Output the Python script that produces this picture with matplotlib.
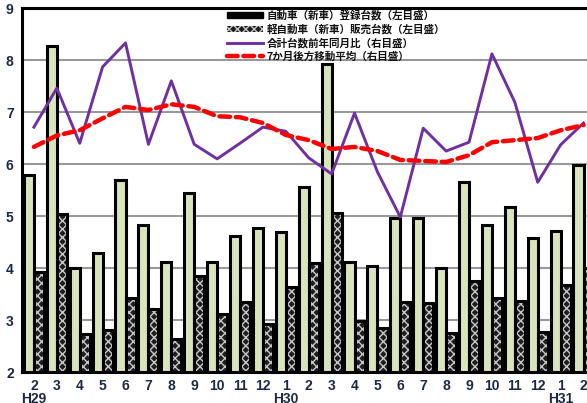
import numpy as np
import matplotlib
matplotlib.use('Agg')
from matplotlib import pyplot as plt
from matplotlib.patches import Patch, Rectangle
from matplotlib.lines import Line2D

months = ['2', '3', '4', '5', '6', '7', '8', '9', '10', '11', '12',
          '1', '2', '3', '4', '5', '6', '7', '8', '9', '10', '11', '12',
          '1', '2']
years = {0: 'H29', 11: 'H30', 23: 'H31'}

# 自動車(新車)登録台数 (left axis)
registered = [5.79, 8.27, 4.00, 4.29, 5.69, 4.83, 4.12, 5.44, 4.12, 4.62, 4.77, 4.69,
              5.56, 7.92, 4.12, 4.03, 4.96, 4.96, 4.00, 5.65, 4.83, 5.17, 4.58, 4.71, 5.98]
# 軽自動車(新車)販売台数 (left axis)
kei = [3.92, 5.04, 2.73, 2.81, 3.42, 3.21, 2.63, 3.85, 3.12, 3.35, 2.92, 3.63,
       4.09, 5.06, 2.98, 2.85, 3.35, 3.33, 2.75, 3.75, 3.42, 3.37, 2.77, 3.67, 4.00]
# 合計台数前年同月比 (drawn in left-axis units)
yoy = [6.71, 7.46, 6.40, 7.87, 8.33, 6.38, 7.60, 6.38, 6.10, 6.40, 6.71, 6.63,
       6.12, 5.81, 6.98, 5.85, 4.98, 6.69, 6.25, 6.42, 8.12, 7.19, 5.65, 6.37, 6.79]
# 7か月後方移動平均
ma7 = [6.33, 6.55, 6.65, 6.88, 7.10, 7.04, 7.15, 7.10, 6.92, 6.90, 6.79, 6.56,
       6.46, 6.29, 6.33, 6.25, 6.08, 6.06, 6.04, 6.17, 6.42, 6.46, 6.50, 6.65, 6.75]

labels = ['自動車（新車）登録台数（左目盛）', '軽自動車（新車）販売台数（左目盛）',
          '合計台数前年同月比（右目盛）', '7か月後方移動平均（右目盛）']

jp = ['Noto Sans CJK JP', 'DejaVu Sans']
tick_color = '#1c2a48'

fig = plt.figure(figsize=(5.87, 4.03), dpi=100)
ax = fig.add_axes([0.0375, 0.0769, 0.9956, 0.903])

x = np.arange(len(months))
w = 0.44

ax.bar(x - w / 2, registered, w, color='#d8e4bc', edgecolor='black', linewidth=2.2, zorder=2)
ax.bar(x + w / 2, kei, w, color='#1e1e1e', edgecolor='#c8c8c8', linewidth=0, hatch='xxxx', zorder=2)
ax.bar(x + w / 2, kei, w, fill=False, edgecolor='black', linewidth=2.2, zorder=2.1)

ax.plot(x, yoy, color='#7030a0', linewidth=2.1, zorder=3)
ax.plot(x, ma7, color='red', linewidth=3.2, linestyle=(0, (2.4, 1.3)),
        dash_capstyle='round', zorder=3.5)

ax.set_xlim(-0.52, 25)
ax.set_ylim(2, 9)
ax.set_yticks(range(2, 10))
ax.yaxis.grid(True, color='#999999', linewidth=1.5)
ax.set_axisbelow(True)

ticklabels = [m + ('\n' + years[i] if i in years else '') for i, m in enumerate(months)]
ax.set_xticks(x)
ax.set_xticklabels(ticklabels, linespacing=0.95, va='top')
ax.tick_params(length=0, labelsize=10, labelcolor=tick_color)
ax.tick_params(axis='x', pad=5)
ax.tick_params(axis='y', pad=6)
for t in ax.get_xticklabels() + ax.get_yticklabels():
    t.set_fontweight('bold')
    t.set_family(['Liberation Sans', 'DejaVu Sans'])

for s in ['left', 'top', 'bottom']:
    ax.spines[s].set_linewidth(2.2)
ax.spines['right'].set_visible(False)

# white box behind the legend
ax.add_patch(Rectangle((213 / 587, (403 - 58) / 403), (452 - 213) / 587, 50 / 403,
                       transform=fig.transFigure, facecolor='white', edgecolor='none',
                       zorder=1.5, clip_on=False))

handles = [Patch(facecolor='black', edgecolor='black'),
           Patch(facecolor='#1e1e1e', edgecolor='#c8c8c8', hatch='xxxx', linewidth=0),
           Line2D([], [], color='#7030a0', linewidth=2.1),
           Line2D([], [], color='red', linewidth=3.2, linestyle=(0, (2.4, 1.3)), dash_capstyle='round')]
leg = fig.legend(handles, labels, loc='upper left', bbox_to_anchor=(227 / 587, (403 - 10) / 403),
                 frameon=False, borderpad=0, borderaxespad=0, handlelength=3.4,
                 handleheight=0.6, handletextpad=0.35, labelspacing=0.3,
                 prop={'family': jp, 'size': 7.6, 'weight': 'bold'})
for t in leg.get_texts():
    t.set_color('#111111')

fig.savefig('out.png', dpi=100)
